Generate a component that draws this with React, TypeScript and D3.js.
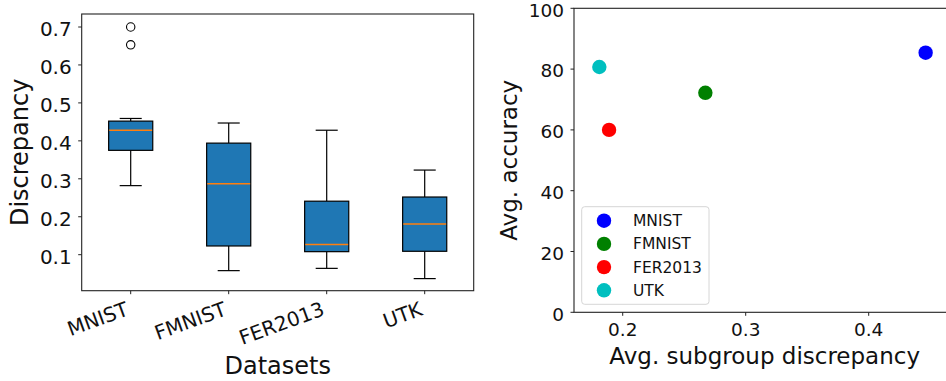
import React, { useEffect, useRef } from 'react';
import * as d3 from 'd3';

// box plot stats per dataset
const datasets = ['MNIST', 'FMNIST', 'FER2013', 'UTK'];
const whiskerLow = [0.282, 0.058, 0.064, 0.037];
const q1 = [0.375, 0.123, 0.108, 0.109];
const medians = [0.428, 0.287, 0.127, 0.181];
const q3 = [0.452, 0.394, 0.241, 0.252];
const whiskerHigh = [0.459, 0.447, 0.428, 0.323];
const outliers = [[0.7, 0.653], [], [], []];
const discrepancyTicks = [0.1, 0.2, 0.3, 0.4, 0.5, 0.6, 0.7];

// scatter: avg subgroup discrepancy vs avg accuracy
const avgDiscrepancy = [0.4463, 0.2672, 0.1889, 0.181];
const avgAccuracy = [85.4, 72.2, 60.0, 80.7];
const pointColors = ['#0000ff', '#008000', '#ff0000', '#00bfbf'];
const accuracyTicks = [0, 20, 40, 60, 80, 100];
const subgroupTicks = [0.2, 0.3, 0.4];

const FONT = 'DejaVu Sans, sans-serif';

const App = () => {
  const svgRef = useRef<SVGSVGElement>(null);

  useEffect(() => {
    const svg = d3.select(svgRef.current);
    svg.selectAll('*').remove();

    // ---------- left: box plot ----------
    const L = { left: 81.7, right: 473.7, top: 14, bottom: 290.7 };
    const x = d3.scaleBand().domain(datasets).range([L.left, L.right]).padding(0);
    const y = d3.scaleLinear().domain([0.1, 0.7]).range([254.7, 27]);
    const boxW = x.step() * 0.45;
    const cx = (d: string) => (x(d) as number) + x.bandwidth() / 2;

    const left = svg.append('g');

    datasets.forEach((d, i) => {
      const c = cx(d);
      const g = left.append('g');
      // whiskers
      g.append('line').attr('x1', c).attr('x2', c).attr('y1', y(q1[i])).attr('y2', y(whiskerLow[i]))
        .attr('stroke', '#000').attr('stroke-width', 1.2);
      g.append('line').attr('x1', c).attr('x2', c).attr('y1', y(q3[i])).attr('y2', y(whiskerHigh[i]))
        .attr('stroke', '#000').attr('stroke-width', 1.2);
      [whiskerLow[i], whiskerHigh[i]].forEach(v => {
        g.append('line').attr('x1', c - boxW / 4).attr('x2', c + boxW / 4).attr('y1', y(v)).attr('y2', y(v))
          .attr('stroke', '#000').attr('stroke-width', 1.2);
      });
      // box
      g.append('rect')
        .attr('x', c - boxW / 2).attr('width', boxW)
        .attr('y', y(q3[i])).attr('height', y(q1[i]) - y(q3[i]))
        .attr('fill', '#1f77b4').attr('stroke', '#000').attr('stroke-width', 1.2);
      // median
      g.append('line').attr('x1', c - boxW / 2 + 0.6).attr('x2', c + boxW / 2 - 0.6)
        .attr('y1', y(medians[i])).attr('y2', y(medians[i]))
        .attr('stroke', '#ff7f0e').attr('stroke-width', 1.5);
      // fliers
      outliers[i].forEach(v => {
        g.append('circle').attr('cx', c).attr('cy', y(v)).attr('r', 4.2)
          .attr('fill', 'none').attr('stroke', '#000').attr('stroke-width', 1.1);
      });
    });

    left.append('rect')
      .attr('x', L.left).attr('y', L.top)
      .attr('width', L.right - L.left).attr('height', L.bottom - L.top)
      .attr('fill', 'none').attr('stroke', '#222').attr('stroke-width', 1.1);

    // y ticks
    discrepancyTicks.forEach(t => {
      left.append('line').attr('x1', L.left - 3.5).attr('x2', L.left).attr('y1', y(t)).attr('y2', y(t))
        .attr('stroke', '#222');
      left.append('text').attr('x', L.left - 10).attr('y', y(t)).attr('dy', '0.45em')
        .attr('text-anchor', 'end').style('font-family', FONT).style('font-size', '20px').attr('fill', '#111')
        .text(t.toFixed(1));
    });

    // x ticks, rotated labels
    datasets.forEach(d => {
      const c = cx(d);
      left.append('line').attr('x1', c).attr('x2', c).attr('y1', L.bottom).attr('y2', L.bottom + 3.5)
        .attr('stroke', '#222');
      left.append('text')
        .attr('transform', `translate(${c - 1},${L.bottom + 24}) rotate(-20)`)
        .attr('text-anchor', 'end').style('font-family', FONT).style('font-size', '20px').attr('fill', '#111')
        .text(d);
    });

    left.append('text')
      .attr('transform', `translate(27.5,${(L.top + L.bottom) / 2}) rotate(-90)`)
      .attr('text-anchor', 'middle').style('font-family', FONT).style('font-size', '24px').attr('fill', '#111')
      .text('Discrepancy');
    left.append('text')
      .attr('x', (L.left + L.right) / 2).attr('y', 374)
      .attr('text-anchor', 'middle').style('font-family', FONT).style('font-size', '24px').attr('fill', '#111')
      .text('Datasets');

    // ---------- right: scatter ----------
    const R = { left: 574, right: 955.4, top: 8.3, bottom: 312.3 };
    const xs = d3.scaleLinear().domain([0.1604, 0.4705]).range([R.left, R.right]);
    const ys = d3.scaleLinear().domain([0, 100]).range([R.bottom, R.top]);

    const right = svg.append('g');
    right.append('rect')
      .attr('x', R.left).attr('y', R.top)
      .attr('width', R.right - R.left).attr('height', R.bottom - R.top)
      .attr('fill', 'none').attr('stroke', '#222').attr('stroke-width', 1.1);

    accuracyTicks.forEach(t => {
      right.append('line').attr('x1', R.left - 3.5).attr('x2', R.left).attr('y1', ys(t)).attr('y2', ys(t))
        .attr('stroke', '#222');
      right.append('text').attr('x', R.left - 10).attr('y', ys(t)).attr('dy', '0.45em')
        .attr('text-anchor', 'end').style('font-family', FONT).style('font-size', '18.5px').attr('fill', '#111')
        .text(t);
    });
    subgroupTicks.forEach(t => {
      right.append('line').attr('x1', xs(t)).attr('x2', xs(t)).attr('y1', R.bottom).attr('y2', R.bottom + 3.5)
        .attr('stroke', '#222');
      right.append('text').attr('x', xs(t)).attr('y', R.bottom + 24)
        .attr('text-anchor', 'middle').style('font-family', FONT).style('font-size', '18.5px').attr('fill', '#111')
        .text(t.toFixed(1));
    });

    right.selectAll('circle.pt')
      .data(datasets)
      .enter().append('circle')
      .attr('class', 'pt')
      .attr('cx', (_, i) => xs(avgDiscrepancy[i]))
      .attr('cy', (_, i) => ys(avgAccuracy[i]))
      .attr('r', 7.2)
      .attr('fill', (_, i) => pointColors[i]);

    right.append('text')
      .attr('transform', `translate(516.5,${(R.top + R.bottom) / 2}) rotate(-90)`)
      .attr('text-anchor', 'middle').style('font-family', FONT).style('font-size', '23px').attr('fill', '#111')
      .text('Avg. accuracy');
    right.append('text')
      .attr('x', (R.left + R.right) / 2).attr('y', 364.3)
      .attr('text-anchor', 'middle').style('font-family', FONT).style('font-size', '23px').attr('fill', '#111')
      .text('Avg. subgroup discrepancy');

    // legend
    const lg = right.append('g').attr('transform', 'translate(581.7,206.7)');
    lg.append('rect').attr('width', 127.3).attr('height', 97.6).attr('rx', 3)
      .attr('fill', '#fff').attr('fill-opacity', 0.8).attr('stroke', '#d6d6d6');
    datasets.forEach((d, i) => {
      const yy = 14 + i * 23.2;
      lg.append('circle').attr('cx', 22.3).attr('cy', yy).attr('r', 7.2).attr('fill', pointColors[i]);
      lg.append('text').attr('x', 51.3).attr('y', yy).attr('dy', '0.36em')
        .style('font-family', FONT).style('font-size', '15.5px').attr('fill', '#111')
        .text(d);
    });
  }, []);

  return (
    <svg
      ref={svgRef}
      width={946}
      height={381}
      style={{ position: 'absolute', left: 0, top: 0, background: '#fff' }}
    />
  );
};

export default App;
